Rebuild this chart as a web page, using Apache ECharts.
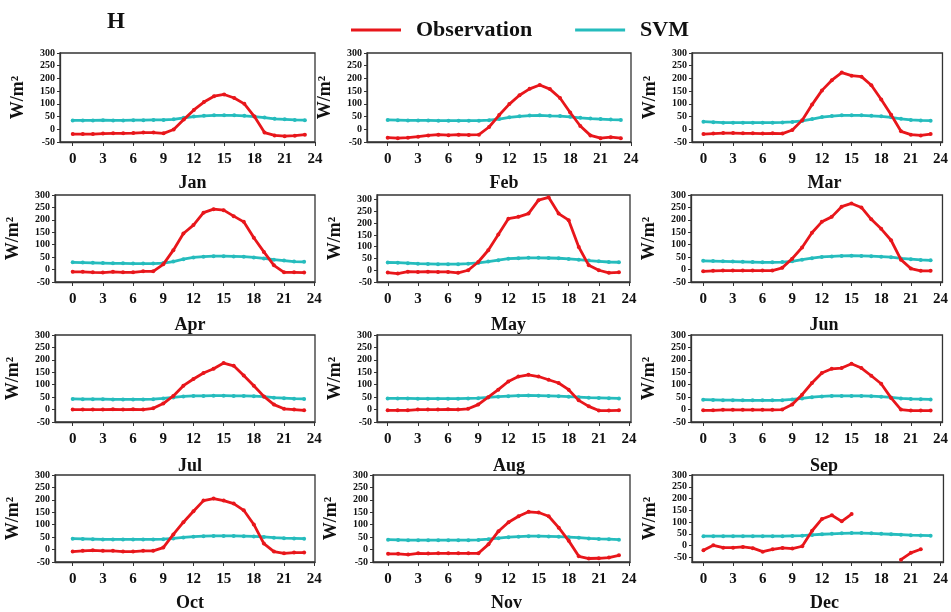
<!DOCTYPE html>
<html>
<head>
<meta charset="utf-8">
<script src="https://cdn.jsdelivr.net/npm/echarts@6/dist/echarts.min.js"></script>
<style>
  html, body { margin: 0; padding: 0; background: #fff; }
  #con { width: 951px; height: 612px; }
</style>
</head>
<body>
<div id="con"></div>
<script>
// hourly mean values, W/m2
var hours = [0,1,2,3,4,5,6,7,8,9,10,11,12,13,14,15,16,17,18,19,20,21,22,23];
var xTicks = [0,3,6,9,12,15,18,21,24];
var yTicks = [-50,0,50,100,150,200,250,300];
var months = ['Jan','Feb','Mar','Apr','May','Jun','Jul','Aug','Sep','Oct','Nov','Dec'];

var obsJan = [-19,-19,-19,-17,-16,-16,-15,-13,-13,-16,-1,38,76,107,130,137,123,100,50,-13,-24,-27,-25,-21];
var svmJan = [35,35,35,36,35,35,36,36,37,37,39,45,50,53,55,55,55,53,50,46,41,39,37,36];
var obsFeb = [-33,-35,-33,-29,-24,-21,-23,-21,-22,-21,9,56,99,134,159,174,158,123,66,13,-24,-35,-31,-35];
var svmFeb = [37,36,35,35,35,34,34,34,34,34,36,40,47,51,54,55,53,52,49,45,42,40,38,37];
var obsMar = [-19,-17,-15,-15,-16,-16,-17,-16,-17,-3,36,97,153,193,223,211,207,173,117,57,-8,-21,-24,-19];
var svmMar = [30,28,26,26,26,26,26,26,27,29,33,40,48,52,55,55,55,53,51,47,41,37,35,34];
var obsApr = [-9,-9,-11,-12,-9,-11,-11,-7,-7,21,78,145,179,229,243,239,215,192,128,71,17,-11,-11,-12];
var svmApr = [29,28,27,26,25,25,24,24,24,26,32,42,49,52,54,54,53,52,49,45,40,36,32,31];
var obsMay = [-10,-14,-6,-7,-6,-7,-7,-11,0,35,85,152,219,227,241,298,310,241,213,99,21,0,-11,-9];
var svmMay = [33,32,30,28,27,26,26,26,28,31,37,43,49,51,53,53,52,51,48,45,41,38,35,34];
var obsJun = [-7,-5,-4,-4,-4,-4,-4,-4,7,44,89,148,192,212,253,266,250,202,164,118,40,4,-5,-5];
var svmJun = [35,34,33,32,31,30,29,29,30,33,40,46,51,53,55,56,55,54,52,50,45,42,39,37];
var obsJul = [0,0,0,0,1,0,1,0,5,24,55,96,123,147,164,187,176,137,96,53,20,3,0,-3];
var svmJul = [43,42,42,42,41,41,41,41,42,45,49,53,55,55,56,56,55,55,54,52,48,46,44,43];
var obsAug = [-3,-3,-3,0,0,0,1,0,3,20,50,80,113,133,140,133,120,107,80,37,13,-4,-4,-3];
var svmAug = [45,45,45,44,44,44,44,44,45,46,49,52,54,56,57,56,55,54,52,50,48,47,46,45];
var obsSep = [-3,-3,-1,-1,-1,-1,-1,-1,0,20,60,107,147,164,167,184,167,136,104,47,0,-4,-4,-4];
var svmSep = [40,39,38,38,37,37,37,37,38,41,45,50,53,55,55,55,55,54,52,49,45,43,42,41];
var obsOct = [-8,-5,-3,-5,-5,-8,-8,-5,-5,8,61,110,154,197,205,197,185,158,101,24,-8,-15,-12,-12];
var svmOct = [44,43,42,41,41,41,41,41,41,42,45,49,52,54,55,55,55,54,53,51,48,46,45,44];
var obsNov = [-17,-17,-20,-15,-16,-15,-15,-15,-15,-15,21,74,110,134,152,149,134,88,35,-27,-36,-35,-32,-23];
var svmNov = [40,39,38,38,38,38,38,38,38,39,42,46,50,52,54,54,53,52,50,48,45,43,42,40];
var obsDec = [-20,1,-9,-9,-6,-11,-26,-16,-10,-13,-3,63,113,129,103,134,null,null,null,null,-60,-31,-16,null];
var svmDec = [40,40,40,40,40,40,40,40,40,41,42,45,48,50,52,53,53,52,50,48,46,44,43,42];

var obsAll = [obsJan,obsFeb,obsMar,obsApr,obsMay,obsJun,obsJul,obsAug,obsSep,obsOct,obsNov,obsDec];
var svmAll = [svmJan,svmFeb,svmMar,svmApr,svmMay,svmJun,svmJul,svmAug,svmSep,svmOct,svmNov,svmDec];

// panel boxes in pixels: left, right, top, bottom, x range, y range
var panels = [
    {L:60,  R:315, T:53,  B:142, x0:-1.26, x1:24,   y0:-50, y1:300},
    {L:367, R:631, T:53,  B:142, x0:-2.04, x1:24,   y0:-50, y1:300},
    {L:692, R:947, T:53,  B:142, x0:-1.16, x1:24.2, y0:-50, y1:300},
    {L:55,  R:315, T:195, B:282, x0:-1.76, x1:24.08,y0:-50, y1:300},
    {L:377, R:630, T:195, B:282, x0:-1.07, x1:24.1, y0:-50, y1:320},
    {L:691, R:947, T:195, B:282, x0:-1.23, x1:24.2, y0:-50, y1:300},
    {L:55,  R:315, T:335, B:422, x0:-1.76, x1:24.08,y0:-50, y1:300},
    {L:377, R:631, T:335, B:422, x0:-1.06, x1:24.2, y0:-50, y1:300},
    {L:691, R:947, T:335, B:422, x0:-1.23, x1:24.2, y0:-50, y1:300},
    {L:55,  R:315, T:475, B:562, x0:-1.76, x1:24.08,y0:-50, y1:300},
    {L:373, R:630, T:475, B:562, x0:-1.5,  x1:24.1, y0:-50, y1:300},
    {L:692, R:947, T:475, B:562, x0:-1.16, x1:24.3, y0:-70, y1:300}
];
var labelTops = [169, 311, 452, 589];

var FONT = '"Liberation Serif", "Times New Roman", serif';
var RED = '#e8161b';
var CYAN = '#25bcbd';

var toPairs = function(arr) {
    var out = [];
    for (var i = 0; i < hours.length; i++) {
        out.push([hours[i], arr[i] == null ? '-' : arr[i]]);
    }
    return out;
};

var grids = [], xAxes = [], yAxes = [], series = [];
var titles = [{
    text: 'H', left: 102, top: 6,
    textStyle: {fontFamily: FONT, fontWeight: 'bold', fontSize: 23, color: '#111'}
}];

for (var k = 0; k < 12; k++) {
    var p = panels[k];
    grids.push({
        left: p.L, top: p.T, width: p.R - p.L, height: p.B - p.T,
        show: true, borderColor: '#333', borderWidth: 1.3, backgroundColor: 'transparent'
    });
    xAxes.push({
        type: 'value', gridIndex: k, min: p.x0, max: p.x1,
        axisLine: {show: true, onZero: false, lineStyle: {color: '#333', width: 1.3}},
        axisTick: {show: true, customValues: xTicks, length: 4, lineStyle: {color: '#333'}},
        axisLabel: {customValues: xTicks, margin: 10, color: '#111',
            fontFamily: FONT, fontWeight: 'bold', fontSize: 15},
        splitLine: {show: false}
    });
    yAxes.push({
        type: 'value', gridIndex: k, min: p.y0, max: p.y1,
        name: 'W/m²', nameLocation: 'middle', nameGap: 33,
        nameTextStyle: {fontFamily: FONT, fontWeight: 'bold', fontSize: 18, color: '#111'},
        axisLine: {show: true, onZero: false, lineStyle: {color: '#333', width: 1.3}},
        axisTick: {show: true, customValues: yTicks, length: 3, lineStyle: {color: '#333'}},
        axisLabel: {customValues: yTicks, margin: 5, color: '#111',
            fontFamily: FONT, fontWeight: 'bold', fontSize: 10},
        splitLine: {show: false}
    });
    series.push({
        name: 'Observation', type: 'line', xAxisIndex: k, yAxisIndex: k,
        data: toPairs(obsAll[k]), connectNulls: false,
        symbol: 'circle', symbolSize: 4, showSymbol: true,
        lineStyle: {color: RED, width: 2.8}, itemStyle: {color: RED}, z: 3
    });
    series.push({
        name: 'SVM', type: 'line', xAxisIndex: k, yAxisIndex: k,
        data: toPairs(svmAll[k]),
        symbol: 'circle', symbolSize: 4, showSymbol: true,
        lineStyle: {color: CYAN, width: 2.8}, itemStyle: {color: CYAN}, z: 2
    });
    titles.push({
        text: months[k], left: (p.L + p.R) / 2, top: labelTops[Math.floor(k / 3)],
        textAlign: 'center',
        textStyle: {fontFamily: FONT, fontWeight: 'bold', fontSize: 18, color: '#111'}
    });
}

var myChart = echarts.init(document.getElementById('con'));
var option = {
    backgroundColor: '#fff',
    animation: false,
    title: titles,
    legend: {
        top: 14, left: 346,
        itemWidth: 50, itemHeight: 3, itemGap: 43,
        data: [
            {name: 'Observation', icon: 'rect', itemStyle: {color: RED}},
            {name: 'SVM', icon: 'rect', itemStyle: {color: CYAN}}
        ],
        textStyle: {fontFamily: FONT, fontWeight: 'bold', fontSize: 22, color: '#111', padding: [0, 0, 0, 10]}
    },
    grid: grids,
    xAxis: xAxes,
    yAxis: yAxes,
    series: series
};
myChart.setOption(option);
</script>
</body>
</html>
